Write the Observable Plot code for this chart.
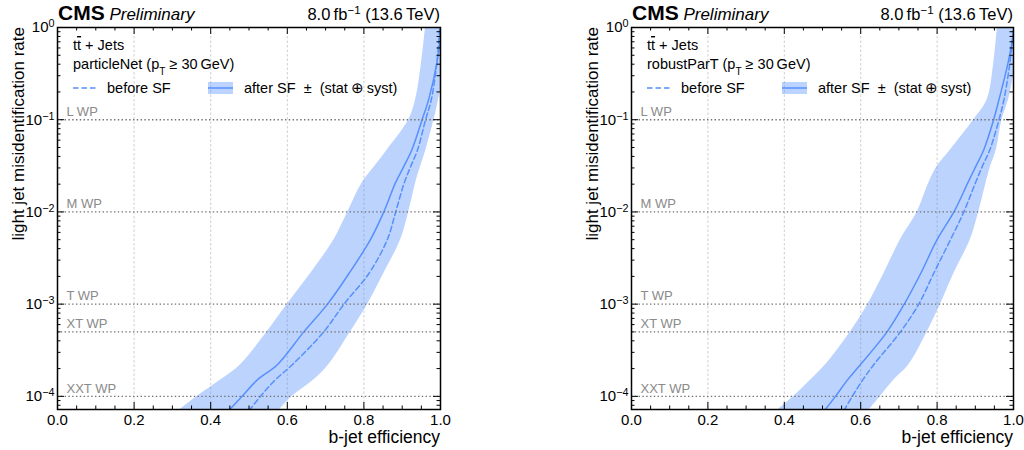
<!DOCTYPE html>
<html><head><meta charset="utf-8">
<script src="https://cdn.jsdelivr.net/npm/d3@7"></script>
<script src="https://cdn.jsdelivr.net/npm/@observablehq/plot@0.6"></script>
<style>
body{margin:0;background:#fff;}
#wrap{display:flex;width:1024px;height:450px;overflow:hidden;}
</style></head><body><div id="wrap"></div>
<script>
// ---- data ----
const mistagLevels = [7e-5, 1e-4, 1.5e-4, 2.2e-4, 5e-4, 1e-3, 2.15e-3, 5e-3, 1e-2, 2.05e-2, 3.1e-2, 4.7e-2, 1e-1, 1.65e-1, 4e-1, 1];
// particleNet
const pnAfter  = [0.447, 0.482, 0.521, 0.574, 0.643, 0.705, 0.761, 0.817, 0.852, 0.882, 0.904, 0.925, 0.952, 0.969, 0.990, 1.003];
const pnBefore = [0.500, 0.530, 0.568, 0.613, 0.695, 0.748, 0.813, 0.861, 0.883, 0.905, 0.922, 0.940, 0.961, 0.976, 0.990, 0.998];
const pnLow    = [0.317, 0.365, 0.426, 0.478, 0.547, 0.600, 0.661, 0.722, 0.758, 0.795, 0.828, 0.861, 0.917, 0.935, 0.950, 0.961];
const pnHigh   = [0.578, 0.613, 0.669, 0.708, 0.765, 0.810, 0.852, 0.896, 0.917, 0.935, 0.948, 0.962, 0.983, 0.995, 1.010, 1.020];
// robustParT
const rpAfter  = [0.505, 0.534, 0.565, 0.599, 0.669, 0.714, 0.757, 0.800, 0.844, 0.880, 0.901, 0.922, 0.948, 0.962, 0.985, 1.003];
const rpBefore = [0.556, 0.578, 0.605, 0.634, 0.704, 0.752, 0.791, 0.835, 0.870, 0.900, 0.918, 0.938, 0.962, 0.975, 0.990, 1.000];
const rpLow    = [0.381, 0.425, 0.469, 0.508, 0.573, 0.619, 0.661, 0.704, 0.748, 0.778, 0.800, 0.835, 0.896, 0.931, 0.948, 0.958];
const rpHigh   = [0.621, 0.652, 0.687, 0.726, 0.774, 0.809, 0.844, 0.887, 0.909, 0.928, 0.940, 0.955, 0.970, 0.987, 1.005, 1.020];
// working points
const wpNames  = ["L WP", "M WP", "T WP", "XT WP", "XXT WP"];
const wpValues = [1e-1, 1e-2, 1e-3, 5e-4, 1e-4];
// axes
const xTicks = [0, 0.2, 0.4, 0.6, 0.8, 1.0];
const xGridTicks = [0.2, 0.4, 0.6, 0.8];
const yTicks = [1e-4, 1e-3, 1e-2, 1e-1, 1];
const yDomain = [7.2e-5, 1];

const FONT = "'Liberation Sans', Arial, Helvetica, sans-serif";
const BLUE = "#5790fc";

function addText(g, x, y, parts, opts = {}) {
  const t = g.append("text").attr("x", x).attr("y", y)
    .attr("font-family", FONT).attr("font-size", opts.size || 14)
    .attr("fill", opts.fill || "#000")
    .attr("text-anchor", opts.anchor || "start");
  if (opts.weight) t.attr("font-weight", opts.weight);
  if (opts.style) t.attr("font-style", opts.style);
  if (opts.transform) t.attr("transform", opts.transform);
  for (const p of parts) {
    if (typeof p === "string") { t.append("tspan").text(p); continue; }
    const s = t.append("tspan").text(p.t);
    if (p.sup) s.attr("baseline-shift", "super").attr("font-size", "70%");
    if (p.sub) s.attr("baseline-shift", "sub").attr("font-size", "70%");
    if (p.over) s.attr("text-decoration", "overline");
    if (p.weight) s.attr("font-weight", p.weight);
    if (p.style) s.attr("font-style", p.style);
    if (p.size) s.attr("font-size", p.size);
  }
  return t;
}

function panel(cfg) {
  const W = 512, H = 450, MT = 27, MB = 41;
  const ML = cfg.marginLeft, MR = cfg.marginRight;
  const FW = W - ML - MR, FH = H - MT - MB;
  const rows = mistagLevels.map((m, i) => ({m, after: cfg.after[i], before: cfg.before[i], lo: cfg.lo[i], hi: cfg.hi[i]}));
  const wps = wpNames.map((n, i) => ({n, v: wpValues[i]}));
  const xMinor = d3.range(0, 21).map(i => i * 0.05).filter(v => Math.abs(v * 5 - Math.round(v * 5)) > 1e-6);
  const yMinor = [];
  for (let e = -5; e < 0; e++) for (let k = 2; k <= 9; k++) {
    const v = k * Math.pow(10, e);
    if (v >= yDomain[0] && v < 1) yMinor.push(v);
  }
  const svg = Plot.plot({
    width: W, height: H,
    marginLeft: ML, marginRight: MR, marginTop: MT, marginBottom: MB,
    style: {fontFamily: FONT, fontSize: "15px", color: "#000", background: "#fff", overflow: "visible"},
    x: {domain: [0, 1]},
    y: {type: "log", domain: yDomain},
    marks: [
      Plot.gridX(xGridTicks, {stroke: "#cfcfcf", strokeOpacity: 1, strokeDasharray: "2.5,2"}),
      Plot.areaX(rows, {y: "m", x1: "lo", x2: "hi", fill: BLUE, fillOpacity: 0.4, curve: "catmull-rom", clip: true}),
      Plot.line(rows, {x: "before", y: "m", stroke: BLUE, strokeWidth: 1.5, strokeDasharray: "5.5,3", curve: "catmull-rom", clip: true}),
      Plot.line(rows, {x: "after", y: "m", stroke: BLUE, strokeWidth: 1.5, curve: "catmull-rom", clip: true}),
      Plot.ruleY(wps, {y: "v", stroke: "#707070", strokeWidth: 1.4, strokeDasharray: "1.4,2.4"}),
      Plot.text(wps, {y: "v", text: "n", frameAnchor: "left", dx: 9, dy: -8, textAnchor: "start", fill: "#8a8a8a", fontSize: 13}),
      // inward ticks on all four sides
      Plot.ruleX(xTicks, {insetTop: FH - 7, stroke: "#000"}),
      Plot.ruleX(xTicks, {insetBottom: FH - 7, stroke: "#000"}),
      Plot.ruleX(xMinor, {insetTop: FH - 3.5, stroke: "#000"}),
      Plot.ruleX(xMinor, {insetBottom: FH - 3.5, stroke: "#000"}),
      Plot.ruleY(yTicks, {insetRight: FW - 7, stroke: "#000"}),
      Plot.ruleY(yTicks, {insetLeft: FW - 7, stroke: "#000"}),
      Plot.ruleY(yMinor, {insetRight: FW - 3.5, stroke: "#000"}),
      Plot.ruleY(yMinor, {insetLeft: FW - 3.5, stroke: "#000"}),
      Plot.axisX(xTicks, {anchor: "bottom", tickSize: 0, tickPadding: 5, tickFormat: d3.format(".1f"), label: null}),
      Plot.axisY(yTicks, {anchor: "left", tickSize: 0, tickPadding: 3, tickFormat: d => "10^" + Math.round(Math.log10(d)), label: null}),
      Plot.frame({stroke: "#000", strokeWidth: 1.5})
    ]
  });
  const s = d3.select(svg);
  // superscript exponents on the y tick labels
  s.selectAll("text").each(function() {
    const t = this.textContent;
    if (/^10\^/.test(t)) {
      const ex = t.slice(3).replace("-", "\u2212");
      this.textContent = "";
      d3.select(this).append("tspan").text("10");
      d3.select(this).append("tspan").attr("dy", "-0.45em").attr("font-size", "72%").text(ex);
    }
  });
  const g = s.append("g");
  const R = ML + FW;
  // header
  addText(g, ML + 1, 20, [{t: "CMS", weight: "bold", size: 21}, {t: " "}, {t: "Preliminary", style: "italic", size: 17}], {size: 17});
  addText(g, R, 20, ["8.0\u2009fb", {t: "\u22121", sup: true}, " (13.6\u2009TeV)"], {size: 16.5, anchor: "end"});
  // inner annotation
  addText(g, ML + 16, MT + 23, ["t", {t: "t", over: true}, " + Jets"], {size: 14.5});
  addText(g, ML + 16, MT + 42, [cfg.algo + " (p", {t: "T", sub: true}, " \u2265 30\u2009GeV)"], {size: 14.5});
  // legend
  const ly = MT + 61;
  g.append("line").attr("x1", ML + 16).attr("x2", ML + 40).attr("y1", ly).attr("y2", ly)
    .attr("stroke", BLUE).attr("stroke-width", 1.5).attr("stroke-dasharray", "5.5,3");
  addText(g, ML + 50, ly + 5, ["before SF"], {size: 14.5});
  g.append("rect").attr("x", ML + 151).attr("y", ly - 6).attr("width", 25).attr("height", 12)
    .attr("fill", BLUE).attr("fill-opacity", 0.4);
  g.append("line").attr("x1", ML + 151).attr("x2", ML + 176).attr("y1", ly).attr("y2", ly)
    .attr("stroke", BLUE).attr("stroke-width", 1.5);
  addText(g, ML + 187, ly + 5, ["after SF  \u00b1  (stat\u2009\u2295\u2009syst)"], {size: 14.5});
  // axis titles
  addText(g, R, 443, ["b-jet efficiency"], {size: 17.5, anchor: "end"});
  addText(g, 0, 0, ["light jet misidentification rate"], {size: 17, anchor: "end",
    transform: `translate(${ML - 33},${MT}) rotate(-90)`});
  return svg;
}

const wrap = document.getElementById("wrap");
wrap.appendChild(panel({algo: "particleNet", after: pnAfter, before: pnBefore, lo: pnLow, hi: pnHigh, marginLeft: 57, marginRight: 72}));
wrap.appendChild(panel({algo: "robustParT", after: rpAfter, before: rpBefore, lo: rpLow, hi: rpHigh, marginLeft: 119, marginRight: 11}));
</script></body></html>
